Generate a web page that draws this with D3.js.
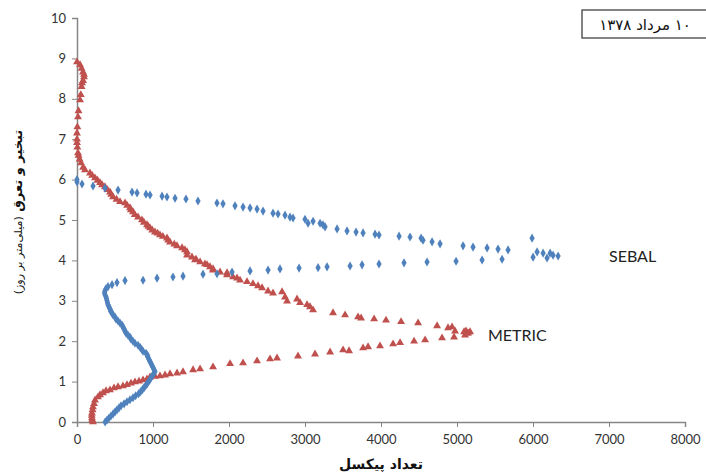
<!DOCTYPE html>
<html><head><meta charset="utf-8">
<script src="https://d3js.org/d3.v7.min.js"></script>
<style>
body{margin:0;background:#fff;}
svg{display:block;}
.tick text{font-family:Lato,"Liberation Sans",sans-serif;font-size:13px;fill:#333;}
.fa{font-family:"DejaVu Sans",sans-serif;}
</style></head>
<body>
<svg id="c" width="706" height="474"></svg>
<script>
// SEBAL series: [ET (mm/day), pixel count]
const sebalET = [0.00,0.05,0.10,0.15,0.20,0.25,0.30,0.35,0.40,0.45,0.50,0.55,0.60,0.65,0.70,0.75,0.80,0.85,0.90,0.95,1.00,1.05,1.10,1.15,1.20,1.25,1.30,1.35,1.40,1.45,1.50,1.55,1.60,1.65,1.70,1.75,1.80,1.85,1.90,1.95,2.00,2.05,2.10,2.15,2.20,2.25,2.30,2.35,2.40,2.45,2.50,2.55,2.60,2.65,2.70,2.75,2.80,2.85,2.90,2.95,3.00,3.05,3.10,3.15,3.20,3.25,3.30,3.35,3.40,3.45,3.50,
 3.51,3.56,3.59,3.61,3.66,3.67,3.71,3.74,3.76,3.79,3.81,3.82,3.84,3.86,3.89,3.91,3.94,3.96,3.98,4.01,4.03,
 4.08,4.21,4.18,4.06,4.18,4.13,4.11,4.55,
 4.26,4.28,4.31,4.33,4.36,4.41,4.46,4.50,4.55,4.58,4.60,4.63,4.65,4.68,4.70,4.73,4.78,4.83,4.88,4.92,4.97,4.92,5.02,5.05,5.07,5.12,5.15,5.17,5.22,5.27,5.30,5.32,5.35,5.40,5.42,5.47,5.52,5.54,5.57,5.59,5.62,5.64,5.67,5.69,5.74,5.79,5.84,5.89,5.94,6.00];
const sebalPix = [370,395,421,447,474,500,526,553,579,619,658,697,737,772,810,836,861,882,903,924,942,960,975,994,1013,1026,1013,1000,987,974,961,947,934,928,908,869,849,829,803,763,737,711,697,671,645,632,619,605,592,566,540,513,500,474,461,441,434,421,408,401,395,388,382,368,362,368,382,408,461,526,632,
 869,1053,1263,1395,1658,1842,2040,2277,2514,2671,2922,3172,3290,3593,3751,3974,4303,4606,4988,5330,5593,
 6001,6054,6133,6185,6225,6264,6330,5988,
 5672,5540,5396,5211,5080,4777,4672,4553,4527,4382,4238,3974,3922,3764,3672,3553,3422,3264,3237,3198,3106,3040,3000,2843,2803,2737,2645,2579,2448,2369,2277,2185,2079,1921,1842,1592,1434,1290,1184,1119,961,908,790,724,540,368,211,66,0,0];

// METRIC series: [ET (mm/day), pixel count]
const metricET = [0.00,0.05,0.10,0.16,0.22,0.30,0.37,0.45,0.54,0.62,0.67,0.72,0.77,0.79,0.84,0.87,0.89,0.92,0.96,0.99,1.01,1.04,1.06,1.11,1.13,1.14,1.16,1.19,1.21,1.24,1.29,1.31,1.36,1.44,1.46,1.51,1.56,1.58,1.63,1.68,1.73,1.76,1.78,1.83,1.86,1.88,1.93,1.96,2.00,2.03,2.08,2.10,2.15,2.20,2.23,2.25,
 2.20,2.23,2.25,2.35,2.33,2.38,2.45,2.48,2.52,2.55,2.57,2.60,2.65,2.70,2.77,2.85,2.90,2.95,3.04,2.99,3.09,3.22,3.19,3.24,3.32,3.37,3.42,3.47,3.51,3.56,3.59,3.64,3.69,3.71,3.76,3.79,3.84,3.89,3.91,3.96,4.01,4.03,4.08,4.13,4.21,4.26,4.31,4.36,4.40,4.45,4.50,4.55,4.59,4.63,4.67,4.70,4.75,4.80,4.84,4.88,4.94,5.00,5.07,5.13,5.20,5.25,5.30,5.36,5.42,5.45,5.51,5.57,5.63,5.69,5.75,5.82,5.87,5.92,5.98,6.04,6.10,6.16,6.24,6.30,6.41,6.50,6.60,6.66,6.80,6.91,7.00,7.15,7.30,7.55,7.70,7.97,8.10,8.30,8.39,8.45,8.54,8.60,8.66,8.75,8.84,8.91];
const metricPix = [210,200,197,195,197,205,210,224,237,276,303,342,382,434,487,540,605,658,711,763,816,869,921,961,1026,1092,1158,1224,1316,1395,1527,1619,1790,2014,2185,2369,2540,2632,2908,3132,3330,3580,3501,3764,3830,3987,4159,4251,4435,4580,4803,4961,5106,5146,5172,5119,
 5132,5093,4974,4935,4882,4738,4488,4264,4066,3909,3738,3698,3527,3369,3106,3066,3027,2935,2895,2764,2737,2698,2579,2514,2435,2382,2316,2237,2145,2106,2053,1974,1974,1882,1790,1790,1750,1711,1684,1620,1553,1566,1513,1448,1448,1420,1382,1316,1280,1224,1200,1184,1130,1092,1060,1026,990,961,940,921,880,855,803,760,737,710,697,660,632,566,520,474,450,434,400,368,330,303,270,237,200,171,105,80,53,35,20,13,5,0,0,0,5,13,20,40,50,60,66,80,92,92,79,60,40,0];

const xTicks = [0,1000,2000,3000,4000,5000,6000,7000,8000];
const yTicks = [0,1,2,3,4,5,6,7,8,9,10];
const seriesNames = ["SEBAL","METRIC"];
const titleText = "۱۰ مرداد ۱۳۷۸";
const yLabelMain = "تبخیر و تعرق";
const yLabelUnit = "(میلی‌متر بر روز)";
const xLabel = "تعداد پیکسل";

const svg = d3.select("#c");
const x = d3.scaleLinear().domain([0,8000]).range([77,685]);
const y = d3.scaleLinear().domain([0,10]).range([422,18]);
const axisColor = "#868686";

const gx = svg.append("g").attr("transform","translate(0,422)")
  .call(d3.axisBottom(x).tickValues(xTicks).tickSize(5).tickPadding(8).tickFormat(d3.format("d")));
const gy = svg.append("g").attr("transform","translate(77,0)")
  .call(d3.axisLeft(y).tickValues(yTicks).tickSize(5).tickPadding(6).tickFormat(d3.format("d")));
[gx,gy].forEach(g=>{
  g.select(".domain").attr("stroke",axisColor).attr("stroke-width",1.5);
  g.selectAll(".tick line").attr("stroke",axisColor).attr("stroke-width",1);
});

const sebal = sebalET.map((e,i)=>({e,p:sebalPix[i]}));
const metric = metricET.map((e,i)=>({e,p:metricPix[i]}));

svg.append("g").selectAll("path").data(metric).join("path")
  .attr("d",d3.symbol(d3.symbolTriangle,27))
  .attr("transform",d=>`translate(${x(d.p)},${y(d.e)})`)
  .attr("fill","#C0504D");
svg.append("g").selectAll("path").data(sebal).join("path")
  .attr("d",d3.symbol(d3.symbolDiamond,24))
  .attr("transform",d=>`translate(${x(d.p)},${y(d.e)})`)
  .attr("fill","#4F81BD");

svg.append("text").attr("x",609).attr("y",262)
  .attr("font-family","Lato,sans-serif").attr("font-size",16).attr("fill","#222").text(seriesNames[0]);
svg.append("text").attr("x",488).attr("y",341)
  .attr("font-family","Lato,sans-serif").attr("font-size",16).attr("fill","#222").text(seriesNames[1]);

// title box
svg.append("rect").attr("x",582).attr("y",10).attr("width",130).attr("height",28)
  .attr("fill","#fff").attr("stroke","#333").attr("stroke-width",1.2);
svg.append("text").attr("class","fa").attr("x",645).attr("y",30)
  .attr("text-anchor","middle").attr("direction","rtl").style("unicode-bidi","embed")
  .attr("font-size",15).attr("fill","#111").text(titleText);

// y label
const yl = svg.append("text").attr("class","fa")
  .attr("transform","translate(22,212) rotate(-90)")
  .attr("text-anchor","middle").attr("direction","rtl").style("unicode-bidi","embed").attr("fill","#111");
yl.append("tspan").attr("font-size",13).attr("font-weight","bold").text(yLabelMain+" ");
yl.append("tspan").attr("font-size",11).text(yLabelUnit);

// x label
svg.append("text").attr("class","fa").attr("x",381).attr("y",469)
  .attr("text-anchor","middle").attr("direction","rtl").style("unicode-bidi","embed")
  .attr("font-size",14).attr("font-weight","bold").attr("fill","#111").text(xLabel);
</script>
</body></html>
